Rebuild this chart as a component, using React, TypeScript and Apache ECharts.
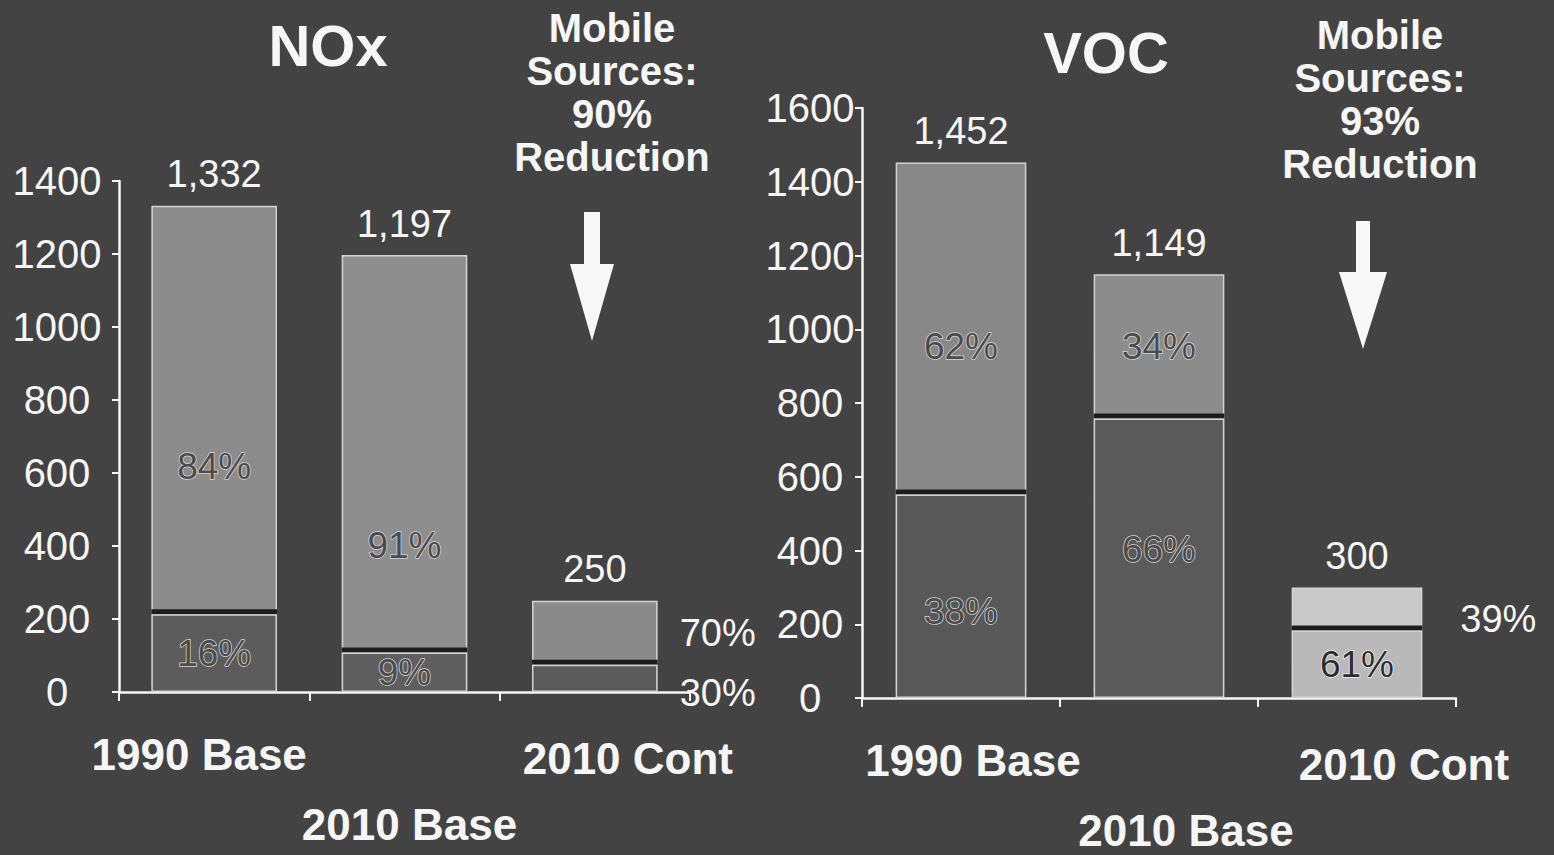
import React, { useEffect, useRef } from 'react';
import * as echarts from 'echarts';

// ---------- data ----------
const categories = ['1990 Base', '2010 Base', '2010 Cont'];

const noxUpper = [1119, 1089, 175];
const noxLower = [213, 108, 75];
const noxUpperPct = ['84%', '91%', '70%'];
const noxLowerPct = ['16%', '9%', '30%'];

const vocUpper = [900, 391, 117];
const vocLower = [552, 758, 183];
const vocUpperPct = ['62%', '34%', '39%'];
const vocLowerPct = ['38%', '66%', '61%'];

const noxMax = 1400;
const vocMax = 1600;
const tickStep = 200;

const noxTitle = 'NOx';
const vocTitle = 'VOC';
const noxNote = ['Mobile', 'Sources:', '90%', 'Reduction'];
const vocNote = ['Mobile', 'Sources:', '93%', 'Reduction'];

// ---------- styles ----------
const BG = '#434343';
const FONT = '"Liberation Sans", Arial, sans-serif';
const WHITE = '#f6f6f6';

const noxUpperColors = ['#8c8c8c', '#8e8e8e', '#8a8a8a'];
const noxLowerColors = ['#5c5c5c', '#5e5e5e', '#5a5a5a'];
const vocUpperColors = ['#888888', '#8c8c8c', '#c9c9c9'];
const vocLowerColors = ['#585858', '#5a5a5a', '#b9b9b9'];

// label layout per item: [mode, offsetY, distance]
const noxUpperLbl: any[] = [['in', 56], ['in', 92], ['right', 0, 22]];
const noxLowerLbl: any[] = [['in', 0], ['in', 0], ['right', 15, 22]];
const vocUpperLbl: any[] = [['in', 18], ['in', 0], ['right', 10, 38]];
const vocLowerLbl: any[] = [['in', 15], ['in', -9], ['in', 0]];

const insideLabel = {
  color: '#4c4c4c',
  fontSize: 37,
  fontFamily: FONT,
  textBorderColor: '#d6d6d6',
  textBorderWidth: 1.5,
};
const outsideLabel = {
  color: WHITE,
  fontSize: 38,
  fontFamily: FONT,
  textBorderWidth: 0,
};

function buildData(values: number[], pcts: string[], colors: string[], lbl: any[]) {
  return values.map((v, i) => {
    const [mode, off, dist] = lbl[i];
    const label =
      mode === 'in'
        ? {
            show: true,
            position: 'inside',
            offset: [0, off],
            formatter: pcts[i],
            ...insideLabel,
            ...(colors[i] > '#a0a0a0' ? { color: '#2e2e2e', textBorderColor: '#efefef' } : {}),
          }
        : {
            show: true,
            position: 'right',
            distance: dist,
            offset: [0, off],
            formatter: pcts[i],
            ...outsideLabel,
          };
    return { value: v, itemStyle: { color: colors[i] }, label };
  });
}

function totals(a: number[], b: number[]) {
  return a.map((v, i) => v + b[i]);
}

const barBase = {
  type: 'bar',
  barWidth: '66%',
  itemStyle: { borderColor: '#d4d4d4', borderWidth: 1.5 },
};

function panelAxes(gridIndex: number, max: number, labelMargin: number) {
  const xAxis = {
    type: 'category',
    gridIndex,
    data: categories,
    axisLine: { lineStyle: { color: WHITE, width: 2.5 } },
    axisTick: { show: true, length: 9, lineStyle: { color: WHITE, width: 2 } },
    axisLabel: {
      color: WHITE,
      fontSize: 44,
      fontWeight: 'bold',
      fontFamily: FONT,
      margin: 40,
      interval: 0,
      formatter: (v: string, i: number) => (i === 0 ? `{a|${v}}` : i === 1 ? `{b|${v}}` : `{c|${v}}`),
      rich: {
        a: { fontSize: 44, fontWeight: 'bold', color: WHITE, fontFamily: FONT, padding: [0, gridIndex === 0 ? 30 : 0, 0, gridIndex === 0 ? 0 : 24] },
        b: { fontSize: 44, fontWeight: 'bold', color: WHITE, fontFamily: FONT, padding: [70, 0, 0, gridIndex === 0 ? 10 : 54] },
        c: { fontSize: 44, fontWeight: 'bold', color: WHITE, fontFamily: FONT, padding: [4, 0, 0, gridIndex === 0 ? 66 : 94] },
      },
    },
    splitLine: { show: false },
  };
  const yAxis = {
    type: 'value',
    gridIndex,
    min: 0,
    max,
    interval: tickStep,
    axisLine: { show: true, lineStyle: { color: WHITE, width: 2.5 } },
    axisTick: { show: true, length: 7, lineStyle: { color: WHITE, width: 2 } },
    splitLine: { show: false },
    axisLabel: {
      color: WHITE,
      fontSize: 40,
      fontFamily: FONT,
      align: 'center',
      margin: labelMargin,
      formatter: (v: number) => String(v),
    },
  };
  return { xAxis, yAxis };
}

function arrow(cx: number, top: number, headTop: number, tip: number, shaftHalf: number, headHalf: number) {
  return {
    type: 'polygon',
    shape: {
      points: [
        [cx - shaftHalf, top],
        [cx + shaftHalf, top],
        [cx + shaftHalf, headTop],
        [cx + headHalf, headTop],
        [cx, tip],
        [cx - headHalf, headTop],
        [cx - shaftHalf, headTop],
      ],
    },
    style: { fill: '#f8f8f8' },
    silent: true,
  };
}

export default function App() {
  const ref = useRef<HTMLDivElement>(null);

  useEffect(() => {
    if (!ref.current) return;
    const chart = echarts.init(ref.current, null, { renderer: 'svg' });

    const left = panelAxes(0, noxMax, 62);
    const right = panelAxes(1, vocMax, 52);

    const noxTotals = totals(noxUpper, noxLower);
    const vocTotals = totals(vocUpper, vocLower);

    const lowerStyle = {
      ...barBase.itemStyle,
      shadowColor: '#1c1c1c',
      shadowBlur: 0,
      shadowOffsetY: -5,
    };

    const totalSeries = (xi: number, vals: number[]) => ({
      type: 'scatter',
      xAxisIndex: xi,
      yAxisIndex: xi,
      symbolSize: 1,
      itemStyle: { color: 'rgba(0,0,0,0)', opacity: 1 },
      data: vals,
      z: 5,
      label: {
        show: true,
        position: 'top',
        distance: 12,
        color: WHITE,
        fontSize: 38,
        fontFamily: FONT,
        formatter: (p: any) => Number(p.value).toLocaleString('en-US'),
      },
    });

    const option: any = {
      animation: false,
      backgroundColor: BG,
      grid: [
        { left: 119, top: 181, width: 571, height: 511 },
        { left: 862, top: 108, width: 594, height: 590 },
      ],
      xAxis: [left.xAxis, right.xAxis],
      yAxis: [left.yAxis, right.yAxis],
      series: [
        {
          ...barBase,
          name: 'NOx lower',
          xAxisIndex: 0,
          yAxisIndex: 0,
          stack: 'nox',
          z: 3,
          itemStyle: lowerStyle,
          data: buildData(noxLower, noxLowerPct, noxLowerColors, noxLowerLbl),
        },
        {
          ...barBase,
          name: 'NOx upper',
          xAxisIndex: 0,
          yAxisIndex: 0,
          stack: 'nox',
          z: 2,
          data: buildData(noxUpper, noxUpperPct, noxUpperColors, noxUpperLbl),
        },
        {
          ...barBase,
          name: 'VOC lower',
          xAxisIndex: 1,
          yAxisIndex: 1,
          stack: 'voc',
          z: 3,
          itemStyle: lowerStyle,
          data: buildData(vocLower, vocLowerPct, vocLowerColors, vocLowerLbl),
        },
        {
          ...barBase,
          name: 'VOC upper',
          xAxisIndex: 1,
          yAxisIndex: 1,
          stack: 'voc',
          z: 2,
          data: buildData(vocUpper, vocUpperPct, vocUpperColors, vocUpperLbl),
        },
        totalSeries(0, noxTotals),
        totalSeries(1, vocTotals),
      ],
      graphic: [
        {
          type: 'text',
          x: 328,
          y: 45,
          style: { text: noxTitle, fill: WHITE, fontSize: 58, fontWeight: 'bold', fontFamily: FONT, textAlign: 'center', textVerticalAlign: 'middle' },
        },
        {
          type: 'text',
          x: 1106,
          y: 52,
          style: { text: vocTitle, fill: WHITE, fontSize: 58, fontWeight: 'bold', fontFamily: FONT, textAlign: 'center', textVerticalAlign: 'middle' },
        },
        {
          type: 'text',
          x: 612,
          y: 92,
          style: { text: noxNote.join('\n'), fill: WHITE, fontSize: 40, lineHeight: 43, fontWeight: 'bold', fontFamily: FONT, textAlign: 'center', textVerticalAlign: 'middle' },
        },
        {
          type: 'text',
          x: 1380,
          y: 99,
          style: { text: vocNote.join('\n'), fill: WHITE, fontSize: 40, lineHeight: 43, fontWeight: 'bold', fontFamily: FONT, textAlign: 'center', textVerticalAlign: 'middle' },
        },
        arrow(592, 212, 264, 341, 8, 22),
        arrow(1363, 221, 272, 349, 7, 24),
      ],
    };

    chart.setOption(option);
    return () => chart.dispose();
  }, []);

  return (
    <div
      ref={ref}
      style={{ position: 'absolute', left: 0, top: 0, width: 1554, height: 855 }}
    />
  );
}
